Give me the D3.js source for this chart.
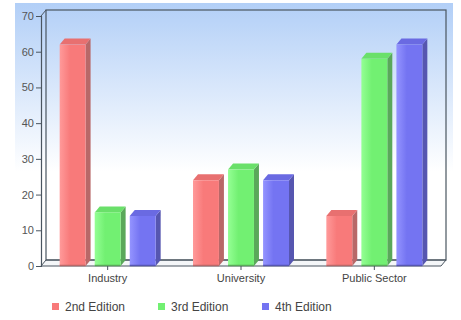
<!DOCTYPE html>
<html><head><meta charset="utf-8">
<script src="https://cdn.jsdelivr.net/npm/d3@7/dist/d3.min.js"></script>
<style>body{margin:0;background:#fff;}svg{display:block;font-family:"Liberation Sans",Arial,sans-serif;}</style>
</head><body>
<svg id="c" width="461" height="320"></svg>
<script>
const categories = ["Industry", "University", "Public Sector"];
const seriesNames = ["2nd Edition", "3rd Edition", "4th Edition"];
const ed2 = [62, 24, 14];
const ed3 = [15, 27, 58];
const ed4 = [14, 24, 62];
const yTicks = [0, 10, 20, 30, 40, 50, 60, 70];
const seriesValues = [ed2, ed3, ed4];
const colors = [
  {front:"#f87a7a", light:"#ff9a9a", side:"#b86868", top:"#e87070"},
  {front:"#72f072", light:"#94ff94", side:"#5aa85a", top:"#6ae06a"},
  {front:"#7474f2", light:"#9494ff", side:"#5656b0", top:"#6a6ae2"}
];

const svg = d3.select("#c");
const defs = svg.append("defs");
const bg = defs.append("linearGradient").attr("id","bg").attr("x1",0).attr("y1",0).attr("x2",0).attr("y2",1);
bg.append("stop").attr("offset","0%").attr("stop-color","#b2cff7");
bg.append("stop").attr("offset","62%").attr("stop-color","#ffffff");
bg.append("stop").attr("offset","100%").attr("stop-color","#ffffff");
colors.forEach((c,i)=>{
  const g = defs.append("linearGradient").attr("id","f"+i).attr("x1",0).attr("y1",0).attr("x2",1).attr("y2",0);
  g.append("stop").attr("offset","0%").attr("stop-color",c.light);
  g.append("stop").attr("offset","40%").attr("stop-color",c.front);
  g.append("stop").attr("offset","100%").attr("stop-color",c.front);
});

svg.append("rect").attr("x",15).attr("y",3).attr("width",438).attr("height",272).attr("fill","url(#bg)");

const left = 41, right = 441, dx = 5, dy = 6;
const y = d3.scaleLinear().domain([0,70]).range([266,16]);
const x0 = d3.scaleBand().domain(categories).range([left,right]);
const x1 = d3.scaleBand().domain(seriesNames).range([-48,48]).paddingInner(0.26);

const wall = "#4a5560";
svg.append("path")
  .attr("d",`M${left},${y(0)}L${right},${y(0)}L${right+dx},${y(0)-dy}L${left+dx},${y(0)-dy}Z`)
  .attr("fill","#f4f6f8").attr("stroke",wall).attr("stroke-width",1);
svg.append("rect").attr("x",left+dx).attr("y",y(70)-dy).attr("width",right-left).attr("height",y(0)-y(70))
  .attr("fill","none").attr("stroke",wall).attr("stroke-width",1.2);
svg.append("line").attr("x1",left).attr("y1",y(70)).attr("x2",left+dx).attr("y2",y(70)-dy).attr("stroke",wall);

categories.forEach((cat,ci)=>{
  seriesNames.forEach((s,si)=>{
    const v = seriesValues[si][ci];
    const bx = x0(cat) + x0.bandwidth()/2 + x1(s);
    const bw = x1.bandwidth();
    const by = y(v), b0 = y(0);
    const g = svg.append("g");
    const c = colors[si];
    g.append("path").attr("d",`M${bx+bw},${b0}L${bx+bw+dx},${b0-dy}L${bx+bw+dx},${by-dy}L${bx+bw},${by}Z`).attr("fill",c.side);
    g.append("path").attr("d",`M${bx},${by}L${bx+dx},${by-dy}L${bx+bw+dx},${by-dy}L${bx+bw},${by}Z`).attr("fill",c.top);
    g.append("rect").attr("x",bx).attr("y",by).attr("width",bw).attr("height",b0-by).attr("fill","url(#f"+si+")");
    g.append("line").attr("x1",bx).attr("x2",bx+bw).attr("y1",b0-0.5).attr("y2",b0-0.5).attr("stroke",c.side).attr("stroke-width",1.5);
  });
});

const yAxis = d3.axisLeft(y).tickValues(yTicks).tickSize(5).tickPadding(2);
const ya = svg.append("g").attr("transform",`translate(${left},0)`).call(yAxis);
ya.select(".domain").attr("stroke",wall).attr("stroke-width",1.2);
ya.selectAll(".tick line").attr("stroke",wall);
ya.selectAll("text").attr("fill","#555").attr("font-size",11).attr("font-family","Liberation Sans, Arial, sans-serif");

const xAxis = d3.axisBottom(x0).tickSize(4).tickPadding(4).tickSizeOuter(0);
const xa = svg.append("g").attr("transform",`translate(0,${y(0)})`).call(xAxis);
xa.select(".domain").remove();
xa.selectAll(".tick line").attr("stroke",wall);
xa.selectAll("text").attr("fill","#444").attr("font-size",11).attr("font-family","Liberation Sans, Arial, sans-serif");

const legX = [52, 158, 262];
const leg = svg.append("g");
seriesNames.forEach((s,i)=>{
  leg.append("rect").attr("x",legX[i]).attr("y",303).attr("width",7).attr("height",7).attr("fill",colors[i].front);
  leg.append("text").attr("x",legX[i]+13).attr("y",311).attr("font-size",12).attr("fill","#444").text(s);
});
</script>
</body></html>
